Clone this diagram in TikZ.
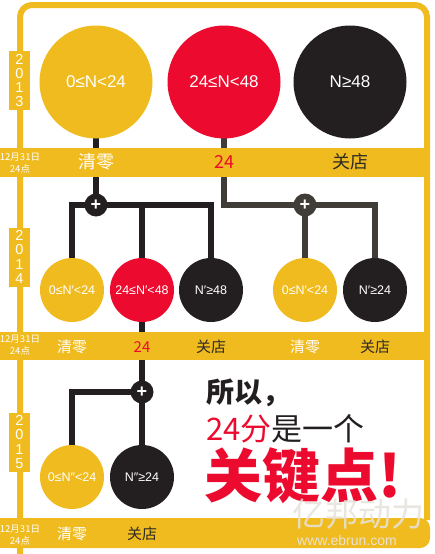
\documentclass[tikz,border=0pt]{standalone}
\usepackage{fontspec}
\setmainfont{Liberation Sans}
\newfontfamily\cjk{Noto Sans CJK SC}
\pgfdeclarelayer{bg}
\pgfsetlayers{bg,main}
\definecolor{ylw}{HTML}{F0BB1E}
\definecolor{rd}{HTML}{EC0B2E}
\definecolor{blk}{HTML}{231F20}
\definecolor{dg}{HTML}{403C37}
\definecolor{dtxt}{HTML}{2E2A25}
\definecolor{wm}{HTML}{E6E2DA}
\begin{document}
\begin{tikzpicture}[x=1pt,y=-1pt,
  bigc/.style={circle, minimum size=113pt, inner sep=0pt, text=white, font=\fontsize{17}{17}\selectfont},
  smc/.style={circle, minimum size=64pt, inner sep=0pt, text=white, font=\fontsize{12.5}{12.5}\selectfont},
  conn/.style={line width=6pt, draw=blk, line join=miter},
  connd/.style={line width=6pt, draw=dg, line join=miter},
  plusn/.style={circle, fill=blk, minimum size=23pt, inner sep=0pt, text=white, font=\bfseries\fontsize{18}{18}\selectfont},
  yearbox/.style={fill=ylw, minimum width=21pt, minimum height=59pt, inner sep=0pt, text=white, align=center, font=\fontsize{14.5}{14.3}\selectfont},
  datelbl/.style={text=white, align=center, inner sep=0pt, font=\cjk\fontsize{9.5}{12.5}\selectfont},
  lblA/.style={inner sep=0pt, font=\cjk\fontsize{18}{18}\selectfont},
  lblB/.style={inner sep=0pt, font=\cjk\fontsize{15}{15}\selectfont},
  frame/.style={line width=6pt, draw=ylw, rounded corners=12pt}
]
\useasboundingbox (0,0) rectangle (435,554);

% background and frame
\begin{pgfonlayer}{bg}
\fill[white] (0,0) rectangle (435,554);
\draw[frame] (20,554) -- (20,5) -- (427,5) -- (427,520);
\end{pgfonlayer}

% row 1 circles
\node[bigc, fill=ylw] (a1) at (96,82) {0≤N<24};
\node[bigc, fill=rd] (a2) at (224,82) {24≤N<48};
\node[bigc, fill=blk] (a3) at (350,82) {N≥48};

% row 2 circles
\node[smc, fill=ylw] (b1) at (72,290) {0≤N′<24};
\node[smc, fill=rd] (b2) at (142,290) {24≤N′<48};
\node[smc, fill=blk] (b3) at (211,290) {N′≥48};
\node[smc, fill=ylw] (c1) at (305,290) {0≤N′<24};
\node[smc, fill=blk] (c2) at (375,290) {N′≥24};

% row 3 circles
\node[smc, fill=ylw] (d1) at (72,477) {0≤N″<24};
\node[smc, fill=blk] (d2) at (142,477) {N″≥24};

% plus nodes
\node[plusn] (p1) at (96,205) {+};
\node[plusn, fill=dg] (p2) at (305,205) {+};
\node[plusn] (p3) at (142,392) {+};

% connectors
\begin{pgfonlayer}{bg}
\draw[conn] (a1.center) -- (p1.center);
\draw[conn] (b1.center) |- (p1.center) -| (b3.center);
\draw[conn] (b2.center) -- (b2 |- p1);
\draw[connd] (a2.center) |- (p2.center) -| (c2.center);
\draw[connd] (p2.center) -- (c1.center);
\draw[conn] (b2.center) -- (p3.center) -- (d2.center);
\draw[conn] (d1.center) |- (p3.center);
\end{pgfonlayer}

% bands
\fill[ylw] (0,148) rectangle (430,177);
\fill[ylw] (0,332) rectangle (430,360);
\fill[ylw, rounded corners=10pt] (0,518) -- (430,518) -- (430,548) -- (0,548) [sharp corners] -- cycle;
\fill[ylw] (0,518) rectangle (20,548);

% year boxes
\node[yearbox] (y1) at (19.5,80.5) {2\\0\\1\\3};
\node[yearbox] (y2) at (19.5,257) {2\\0\\1\\4};
\node[yearbox] (y3) at (19.5,442) {2\\0\\1\\5};

% date labels
\node[datelbl] (t1) at (20,163) {12月31日\\24点};
\node[datelbl] (t2) at (20,345) {12月31日\\24点};
\node[datelbl] (t3) at (20,535) {12月31日\\24点};

% band 1 labels
\node[lblA, text=white] (l11) at (96,162) {清零};
\node[lblA, text=rd] (l12) at (224,162) {24};
\node[lblA, text=dtxt] (l13) at (350,162) {关店};

% band 2 labels
\node[lblB, text=white] (l21) at (72,347) {清零};
\node[lblB, text=rd] (l22) at (142,347) {24};
\node[lblB, text=dtxt] (l23) at (211,347) {关店};
\node[lblB, text=white] (l24) at (305,347) {清零};
\node[lblB, text=dtxt] (l25) at (375,347) {关店};

% band 3 labels
\node[lblB, text=white] (l31) at (72,534) {清零};
\node[lblB, text=dtxt] (l32) at (142,534) {关店};

% conclusion text
\node[anchor=west, inner sep=0pt, font=\cjk\bfseries\fontsize{28}{28}\selectfont, text=blk] (s1) at (206,393) {所以，};
\node[anchor=west, inner sep=0pt, font=\cjk\fontsize{31}{31}\selectfont, text=blk] (s2) at (206,429) {\textcolor{rd}{24分}是一个};
\node[anchor=west, inner sep=0pt, font=\cjk\bfseries\fontsize{58}{58}\selectfont, text=rd] (s3) at (204,476) {关键点!};

% watermark
\node[anchor=west, inner sep=0pt, font=\cjk\itshape\fontsize{33}{33}\selectfont, text=wm, opacity=0.85] (w1) at (292,514) {亿邦动力};
\node[anchor=west, inner sep=0pt, font=\fontsize{14}{14}\selectfont, text=wm] (w2) at (297,540) {www.ebrun.com};
\end{tikzpicture}
\end{document}
